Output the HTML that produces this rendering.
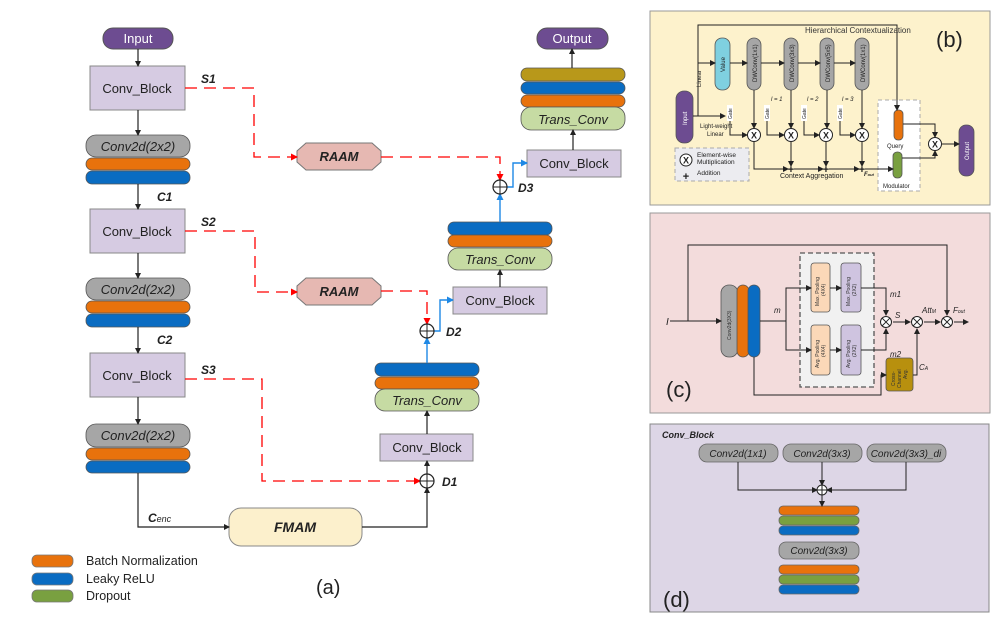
<!DOCTYPE html>
<html><head><meta charset="utf-8"><style>
html,body{margin:0;padding:0;background:#fff;}
svg{display:block;font-family:"Liberation Sans",sans-serif;}
</style></head><body>
<svg width="997" height="627" viewBox="0 0 997 627" xmlns="http://www.w3.org/2000/svg">
<defs>
<marker id="ak" markerWidth="6" markerHeight="6" refX="5" refY="3" orient="auto" markerUnits="userSpaceOnUse"><path d="M0,0 L6,3 L0,6z" fill="#222"/></marker>
<marker id="ar" markerWidth="7" markerHeight="7" refX="6" refY="3.5" orient="auto" markerUnits="userSpaceOnUse"><path d="M0,0 L7,3.5 L0,7z" fill="#f00"/></marker>
<marker id="ab" markerWidth="7" markerHeight="7" refX="6" refY="3.5" orient="auto" markerUnits="userSpaceOnUse"><path d="M0,0 L7,3.5 L0,7z" fill="#1e88e5"/></marker>
</defs>

<!-- ===== Panel (a) ===== -->
<g stroke="#555" stroke-width="1">
<rect x="103" y="28" width="70" height="21" rx="10" fill="#6d4c91"/>
<rect x="537" y="28" width="71" height="21" rx="10" fill="#6d4c91"/>
</g>
<text x="138" y="43" font-size="13" fill="#fff" text-anchor="middle">Input</text>
<text x="572" y="43" font-size="13" fill="#fff" text-anchor="middle">Output</text>

<g fill="#d6cbe2" stroke="#888">
<rect x="90" y="66" width="95" height="44"/>
<rect x="90" y="209" width="95" height="44"/>
<rect x="90" y="353" width="95" height="44"/>
<rect x="380" y="434" width="93" height="27"/>
<rect x="453" y="287" width="94" height="27"/>
<rect x="527" y="150" width="94" height="27"/>
</g>
<g font-size="13" fill="#222" text-anchor="middle">
<text x="137" y="93">Conv_Block</text>
<text x="137" y="236">Conv_Block</text>
<text x="137" y="380">Conv_Block</text>
<text x="427" y="452">Conv_Block</text>
<text x="500" y="305">Conv_Block</text>
<text x="574" y="168">Conv_Block</text>
</g>

<!-- encoder stacks -->
<g stroke="#555" stroke-width="0.8">
<rect x="86" y="135" width="104" height="22" rx="10" fill="#a6a6a6"/>
<rect x="86" y="158" width="104" height="12" rx="6" fill="#e8720c"/>
<rect x="86" y="171" width="104" height="13" rx="6" fill="#0a6cc2"/>
<rect x="86" y="278" width="104" height="22" rx="10" fill="#a6a6a6"/>
<rect x="86" y="301" width="104" height="12" rx="6" fill="#e8720c"/>
<rect x="86" y="314" width="104" height="13" rx="6" fill="#0a6cc2"/>
<rect x="86" y="424" width="104" height="23" rx="10" fill="#a6a6a6"/>
<rect x="86" y="448" width="104" height="12" rx="6" fill="#e8720c"/>
<rect x="86" y="461" width="104" height="12" rx="6" fill="#0a6cc2"/>
<!-- decoder stacks -->
<rect x="375" y="363" width="104" height="13" rx="6" fill="#0a6cc2"/>
<rect x="375" y="377" width="104" height="12" rx="6" fill="#e8720c"/>
<rect x="375" y="389" width="104" height="22" rx="10" fill="#c6dba3"/>
<rect x="448" y="222" width="104" height="13" rx="6" fill="#0a6cc2"/>
<rect x="448" y="235" width="104" height="12" rx="6" fill="#e8720c"/>
<rect x="448" y="248" width="104" height="22" rx="10" fill="#c6dba3"/>
<rect x="521" y="68" width="104" height="13" rx="6" fill="#b8981a"/>
<rect x="521" y="82" width="104" height="12" rx="6" fill="#0a6cc2"/>
<rect x="521" y="95" width="104" height="12" rx="6" fill="#e8720c"/>
<rect x="521" y="107" width="104" height="23" rx="10" fill="#c6dba3"/>
</g>
<g font-size="13" font-style="italic" fill="#222" text-anchor="middle">
<text x="138" y="151">Conv2d(2x2)</text>
<text x="138" y="294">Conv2d(2x2)</text>
<text x="138" y="440">Conv2d(2x2)</text>
<text x="427" y="405">Trans_Conv</text>
<text x="500" y="264">Trans_Conv</text>
<text x="573" y="124">Trans_Conv</text>
</g>

<!-- RAAM -->
<g fill="#e6b8b2" stroke="#777">
<polygon points="306,143 372,143 381,151 381,162 372,170 306,170 297,162 297,151"/>
<polygon points="306,278 372,278 381,286 381,297 372,305 306,305 297,297 297,286"/>
</g>
<g font-size="13" font-weight="bold" font-style="italic" fill="#222" text-anchor="middle">
<text x="339" y="161">RAAM</text>
<text x="339" y="296">RAAM</text>
</g>
<rect x="229" y="508" width="133" height="38" rx="12" fill="#fcf0cc" stroke="#888"/>
<text x="295" y="532" font-size="14" font-weight="bold" font-style="italic" text-anchor="middle" fill="#222">FMAM</text>

<!-- black arrows -->
<g stroke="#222" stroke-width="1.2" fill="none" marker-end="url(#ak)">
<line x1="138" y1="49" x2="138" y2="66"/>
<line x1="138" y1="110" x2="138" y2="135"/>
<line x1="138" y1="184" x2="138" y2="209"/>
<line x1="138" y1="253" x2="138" y2="278"/>
<line x1="138" y1="327" x2="138" y2="353"/>
<line x1="138" y1="397" x2="138" y2="424"/>
<polyline points="138,473 138,527 229,527"/>
<polyline points="362,527 427,527 427,488"/>
<line x1="427" y1="474" x2="427" y2="461"/>
<line x1="427" y1="434" x2="427" y2="411"/>
<line x1="500" y1="287" x2="500" y2="270"/>
<line x1="573" y1="150" x2="573" y2="130"/>
<line x1="572" y1="68" x2="572" y2="49"/>
</g>
<!-- blue -->
<g stroke="#1e88e5" stroke-width="1.4" fill="none" marker-end="url(#ab)">
<line x1="427" y1="363" x2="427" y2="338"/>
<polyline points="434,331 440,331 440,300 453,300"/>
<line x1="500" y1="222" x2="500" y2="194"/>
<polyline points="507,187 513,187 513,163 527,163"/>
</g>
<!-- red dashed -->
<g stroke="#f00" stroke-width="1.3" fill="none" stroke-dasharray="12,7" marker-end="url(#ar)">
<polyline points="185,88 254,88 254,157 297,157"/>
<polyline points="381,157 500,157 500,180"/>
<polyline points="185,231 255,231 255,292 297,292"/>
<polyline points="381,291 427,291 427,324"/>
<polyline points="185,379 262,379 262,481 420,481"/>
</g>
<!-- sum circles -->
<g stroke="#222" stroke-width="1.2" fill="#fff">
<circle cx="427" cy="481" r="7"/><circle cx="427" cy="331" r="7"/><circle cx="500" cy="187" r="7"/>
</g>
<g stroke="#222" stroke-width="1">
<path d="M420,481h14M427,474v14M420,331h14M427,324v14M493,187h14M500,180v14"/>
</g>
<g font-size="12" font-weight="bold" font-style="italic" fill="#222">
<text x="201" y="83">S1</text><text x="201" y="226">S2</text><text x="201" y="374">S3</text>
<text x="157" y="201">C1</text><text x="157" y="344">C2</text>
<text x="442" y="486">D1</text><text x="446" y="336">D2</text><text x="518" y="192">D3</text>
<text x="148" y="522">C<tspan font-size="9" font-weight="normal">enc</tspan></text>
</g>

<!-- legend -->
<g stroke="#777" stroke-width="0.8">
<rect x="32" y="555" width="41" height="12" rx="5" fill="#e8720c"/>
<rect x="32" y="573" width="41" height="12" rx="5" fill="#0a6cc2"/>
<rect x="32" y="590" width="41" height="12" rx="5" fill="#79a040"/>
</g>
<g font-size="12.5" fill="#222">
<text x="86" y="565">Batch Normalization</text>
<text x="86" y="583">Leaky ReLU</text>
<text x="86" y="600">Dropout</text>
</g>
<text x="316" y="594" font-size="20" fill="#222">(a)</text>

<!-- ===== Panel (b) ===== -->
<rect x="650" y="11" width="340" height="194" fill="#fdf2cc" stroke="#999"/>
<text x="936" y="47" font-size="22" fill="#222">(b)</text>
<text x="805" y="33" font-size="8" fill="#333">Hierarchical Contextualization</text>
<rect x="878" y="100" width="42" height="91" fill="#fff" stroke="#aaa" stroke-dasharray="4,3"/>
<rect x="675" y="148" width="74" height="33" fill="#ececf0" stroke="#aaa" stroke-dasharray="4,3"/>
<g stroke="#555" stroke-width="0.8">
<rect x="676" y="91" width="17" height="52" rx="8" fill="#6d4c91"/>
<rect x="715" y="38" width="15" height="52" rx="7" fill="#7fd0e0"/>
<rect x="747" y="38" width="14" height="52" rx="7" fill="#a6a6a6"/>
<rect x="784" y="38" width="14" height="52" rx="7" fill="#a6a6a6"/>
<rect x="820" y="38" width="14" height="52" rx="7" fill="#a6a6a6"/>
<rect x="855" y="38" width="14" height="52" rx="7" fill="#a6a6a6"/>
<rect x="894" y="110" width="9" height="30" rx="4" fill="#e8720c"/>
<rect x="893" y="152" width="9" height="26" rx="4" fill="#79a040"/>
<rect x="959" y="125" width="15" height="51" rx="7" fill="#6d4c91"/>
</g>
<g font-size="6" fill="#222">
<text transform="translate(687,125) rotate(-90)" fill="#fff">Input</text>
<text transform="translate(725,72) rotate(-90)">Value</text>
<text transform="translate(757,82) rotate(-90)">DWConv(1x1)</text>
<text transform="translate(794,82) rotate(-90)">DWConv(3x3)</text>
<text transform="translate(830,82) rotate(-90)">DWConv(5x5)</text>
<text transform="translate(865,82) rotate(-90)">DWConv(1x1)</text>
<text transform="translate(969,160) rotate(-90)" fill="#fff">Output</text>
<text transform="translate(701,87) rotate(-90)">Linear</text>
<text x="700" y="128">Light-weight</text><text x="707" y="136">Linear</text>
<text x="887" y="148">Query</text><text x="883" y="188">Modulator</text>
<text x="780" y="178" font-size="7">Context Aggregation</text>
<text x="864" y="176" font-style="italic" font-weight="bold">F<tspan font-size="4">out</tspan></text>
<text x="697" y="157" font-size="6.5">Element-wise</text><text x="697" y="164" font-size="6.5">Multiplication</text>
<text x="697" y="175" font-size="6.5">Addition</text>
<text x="771" y="101" font-style="italic">l = 1</text><text x="807" y="101" font-style="italic">l = 2</text><text x="842" y="101" font-style="italic">l = 3</text>
</g>
<g fill="#fff"><rect x="727" y="105" width="6" height="16"/><rect x="764" y="105" width="6" height="16"/><rect x="801" y="105" width="6" height="16"/><rect x="837" y="105" width="6" height="16"/></g>
<g font-size="5" fill="#222">
<text transform="translate(732,119) rotate(-90)">Gate</text><text transform="translate(769,119) rotate(-90)">Gate</text>
<text transform="translate(806,119) rotate(-90)">Gate</text><text transform="translate(842,119) rotate(-90)">Gate</text>
</g>
<g stroke="#222" stroke-width="1" fill="none" marker-end="url(#ak)">
<polyline points="693,116 698,116 698,25 897,25 897,110"/>
<line x1="698" y1="63" x2="715" y2="63"/>
<line x1="730" y1="63" x2="747" y2="63"/><line x1="761" y1="63" x2="784" y2="63"/>
<line x1="798" y1="63" x2="820" y2="63"/><line x1="834" y1="63" x2="855" y2="63"/>
<line x1="698" y1="116" x2="725" y2="116"/>
<polyline points="730,121 730,135 747,135"/><polyline points="767,121 767,135 784,135"/>
<polyline points="804,121 804,135 819,135"/><polyline points="840,121 840,135 855,135"/>
<line x1="754" y1="90" x2="754" y2="128"/><line x1="791" y1="90" x2="791" y2="128"/>
<line x1="827" y1="90" x2="827" y2="128"/><line x1="862" y1="90" x2="862" y2="128"/>
<polyline points="754,142 754,169 788,169"/>
<line x1="791" y1="142" x2="791" y2="166"/><line x1="826" y1="142" x2="826" y2="166"/><line x1="862" y1="142" x2="862" y2="166"/>
<line x1="794" y1="169" x2="823" y2="169"/><line x1="829" y1="169" x2="859" y2="169"/>
<line x1="865" y1="169" x2="893" y2="169"/>
<polyline points="903,124 935,124 935,137"/>
<polyline points="902,158 935,158 935,151"/>
<line x1="942" y1="144" x2="959" y2="144"/>
</g>
<g stroke="#222" stroke-width="1" fill="#fff">
<circle cx="754" cy="135" r="6.5"/><circle cx="791" cy="135" r="6.5"/><circle cx="826" cy="135" r="6.5"/><circle cx="862" cy="135" r="6.5"/><circle cx="935" cy="144" r="6.5"/><circle cx="686" cy="160" r="6"/>
</g>
<g font-size="9" font-weight="bold" text-anchor="middle" fill="#222">
<text x="754" y="138.5">X</text><text x="791" y="138.5">X</text><text x="826" y="138.5">X</text><text x="862" y="138.5">X</text><text x="935" y="147.5">X</text><text x="686" y="163.5">X</text>
<text x="791" y="173" font-size="11">+</text><text x="826" y="173" font-size="11">+</text><text x="862" y="173" font-size="11">+</text><text x="686" y="180" font-size="11">+</text>
</g>

<!-- ===== Panel (c) ===== -->
<rect x="650" y="213" width="340" height="200" fill="#f3dcdc" stroke="#999"/>
<rect x="800" y="253" width="74" height="134" fill="#f1f1f1" stroke="#555" stroke-dasharray="5,3" stroke-width="1.3"/>
<g stroke="#555" stroke-width="0.8">
<rect x="721" y="285" width="17" height="72" rx="8" fill="#a6a6a6"/>
<rect x="737" y="285" width="12" height="72" rx="6" fill="#e8720c"/>
<rect x="748" y="285" width="12" height="72" rx="6" fill="#0a6cc2"/>
<rect x="811" y="263" width="19" height="49" rx="3" fill="#fbd8b8"/>
<rect x="841" y="263" width="20" height="49" rx="3" fill="#cfc4e0"/>
<rect x="811" y="325" width="19" height="50" rx="3" fill="#fbd8b8"/>
<rect x="841" y="325" width="20" height="50" rx="3" fill="#cfc4e0"/>
<rect x="886" y="358" width="27" height="33" rx="3" fill="#b8900e"/>
</g>
<g font-size="5" fill="#333">
<text transform="translate(731,340) rotate(-90)">Conv2d(3X3)</text>
<text transform="translate(819,306) rotate(-90)">Max. Pooling</text><text transform="translate(825,296) rotate(-90)">(4X4)</text>
<text transform="translate(850,306) rotate(-90)">Max. Pooling</text><text transform="translate(856,296) rotate(-90)">(2X2)</text>
<text transform="translate(819,368) rotate(-90)">Avg. Pooling</text><text transform="translate(825,357) rotate(-90)">(4X4)</text>
<text transform="translate(850,368) rotate(-90)">Avg. Pooling</text><text transform="translate(856,357) rotate(-90)">(2X2)</text>
<text transform="translate(895,386) rotate(-90)">Cross-</text><text transform="translate(901,388) rotate(-90)">Channel</text><text transform="translate(907,379) rotate(-90)">Avg.</text>
</g>
<g stroke="#222" stroke-width="1" fill="none" marker-end="url(#ak)">
<line x1="670" y1="321" x2="721" y2="321"/>
<polyline points="688,321 688,245 947,245 947,315"/>
<polyline points="760,321 786,321 786,288 811,288"/>
<polyline points="786,321 786,350 811,350"/>
<line x1="830" y1="288" x2="841" y2="288"/><line x1="830" y1="350" x2="841" y2="350"/>
<polyline points="861,288 886,288 886,315"/>
<polyline points="861,350 886,350 886,329"/>
<line x1="893" y1="322" x2="910" y2="322"/>
<line x1="924" y1="322" x2="940" y2="322"/>
<line x1="954" y1="322" x2="968" y2="322"/>
<polyline points="913,375 917,375 917,329"/>
<polyline points="754,357 754,395 881,395 881,375 886,375"/>
</g>
<g stroke="#222" stroke-width="1" fill="#fff">
<circle cx="886" cy="322" r="5.5"/><circle cx="917" cy="322" r="5.5"/><circle cx="947" cy="322" r="5.5"/>
</g>
<g stroke="#222" stroke-width="0.9"><path d="M882,318l8,8M890,318l-8,8M913,318l8,8M921,318l-8,8M943,318l8,8M951,318l-8,8"/></g>
<g font-size="8" font-style="italic" fill="#222">
<text x="666" y="325" font-size="10">I</text>
<text x="774" y="313">m</text><text x="890" y="297">m1</text><text x="890" y="357">m2</text>
<text x="895" y="318">S</text><text x="922" y="313">Att<tspan font-size="5">M</tspan></text>
<text x="953" y="313">F<tspan font-size="5">out</tspan></text>
<text x="919" y="370">C<tspan font-size="5">A</tspan></text>
</g>
<text x="666" y="397" font-size="22" fill="#222">(c)</text>

<!-- ===== Panel (d) ===== -->
<rect x="650" y="424" width="339" height="188" fill="#ddd6e6" stroke="#888"/>
<text x="662" y="438" font-size="9" font-weight="bold" font-style="italic" fill="#222">Conv_Block</text>
<g stroke="#666" stroke-width="0.8">
<rect x="699" y="444" width="79" height="18" rx="8" fill="#a6a6a6"/>
<rect x="783" y="444" width="79" height="18" rx="8" fill="#a6a6a6"/>
<rect x="867" y="444" width="79" height="18" rx="8" fill="#a6a6a6"/>
<rect x="779" y="506" width="80" height="9" rx="4" fill="#e8720c"/>
<rect x="779" y="516" width="80" height="9" rx="4" fill="#79a040"/>
<rect x="779" y="526" width="80" height="9" rx="4" fill="#0a6cc2"/>
<rect x="779" y="542" width="80" height="17" rx="7" fill="#a6a6a6"/>
<rect x="779" y="565" width="80" height="9" rx="4" fill="#e8720c"/>
<rect x="779" y="575" width="80" height="9" rx="4" fill="#79a040"/>
<rect x="779" y="585" width="80" height="9" rx="4" fill="#0a6cc2"/>
</g>
<g font-size="10" font-style="italic" fill="#222" text-anchor="middle">
<text x="738" y="457">Conv2d(1x1)</text><text x="822" y="457">Conv2d(3x3)</text><text x="906" y="457">Conv2d(3x3)_di</text>
<text x="819" y="554">Conv2d(3x3)</text>
</g>
<g stroke="#222" stroke-width="1" fill="none" marker-end="url(#ak)">
<polyline points="738,462 738,490 817,490"/>
<line x1="822" y1="462" x2="822" y2="485"/>
<polyline points="906,462 906,490 827,490"/>
<line x1="822" y1="495" x2="822" y2="506"/>
</g>
<circle cx="822" cy="490" r="5" fill="#fff" stroke="#222"/>
<path d="M817,490h10M822,485v10" stroke="#222"/>
<text x="663" y="607" font-size="22" fill="#222">(d)</text>
</svg>
</body></html>
